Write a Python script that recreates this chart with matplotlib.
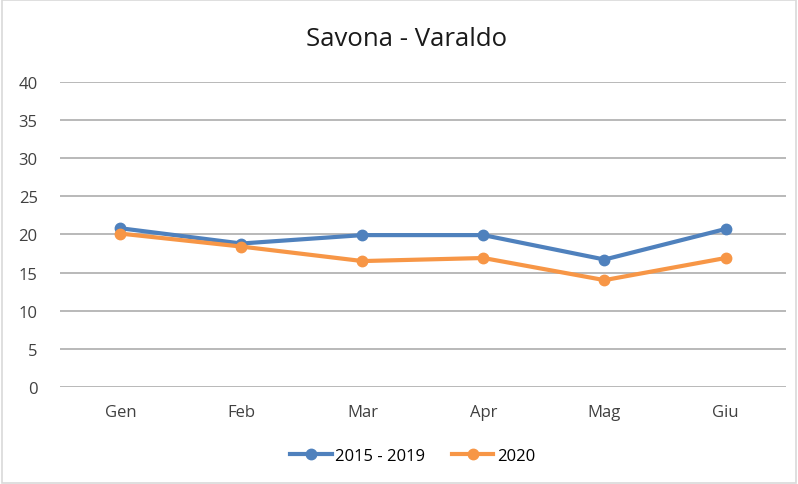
import matplotlib
matplotlib.use("Agg")
import matplotlib.pyplot as plt
from matplotlib.patches import Rectangle

months = ["Gen", "Feb", "Mar", "Apr", "Mag", "Giu"]
series_2015_2019 = [20.8, 18.8, 19.9, 19.9, 16.7, 20.7]
series_2020 = [20.1, 18.4, 16.5, 16.9, 14.0, 16.9]
yticks = [0, 5, 10, 15, 20, 25, 30, 35, 40]

plt.rcParams['font.family'] = ['Open Sans', 'DejaVu Sans']

fig = plt.figure(figsize=(7.98, 4.85), dpi=100)
fig.patches.append(Rectangle((0.003, 0.003), 0.994, 0.994, transform=fig.transFigure,
                             fill=False, edgecolor="#d9d9d9", linewidth=1.2))
ax = fig.add_axes([0.075, 0.2, 0.91, 0.6295])

x = list(range(len(months)))
ax.plot(x, series_2015_2019, color="#4f81bd", linewidth=3, marker="o", markersize=7.5,
        label="2015 - 2019", zorder=3)
ax.plot(x, series_2020, color="#f79646", linewidth=3, marker="o", markersize=7.5,
        label="2020", zorder=4)

ax.set_xlim(-0.5, 5.5)
ax.set_ylim(0, 40)
ax.set_yticks(yticks)
ax.set_xticks(x)
ax.set_xticklabels(months)
ax.grid(axis="y", color="#b3b3b3", linewidth=1.3)
ax.set_axisbelow(True)
for s in ax.spines.values():
    s.set_visible(False)
ax.tick_params(length=0, labelsize=12, labelcolor="#404040")
ax.tick_params(axis="x", pad=12)
ax.tick_params(axis="y", pad=16)

fig.text(0.510, 0.918, "Savona - Varaldo", ha="center", va="center", fontsize=18.5, color="#1a1a1a")

fig.legend(loc="center", bbox_to_anchor=(0.517, 0.058), ncol=2, frameon=False,
           fontsize=12, handlelength=2.5, columnspacing=1.6, handletextpad=0.2)

fig.savefig("out.png", dpi=100)
